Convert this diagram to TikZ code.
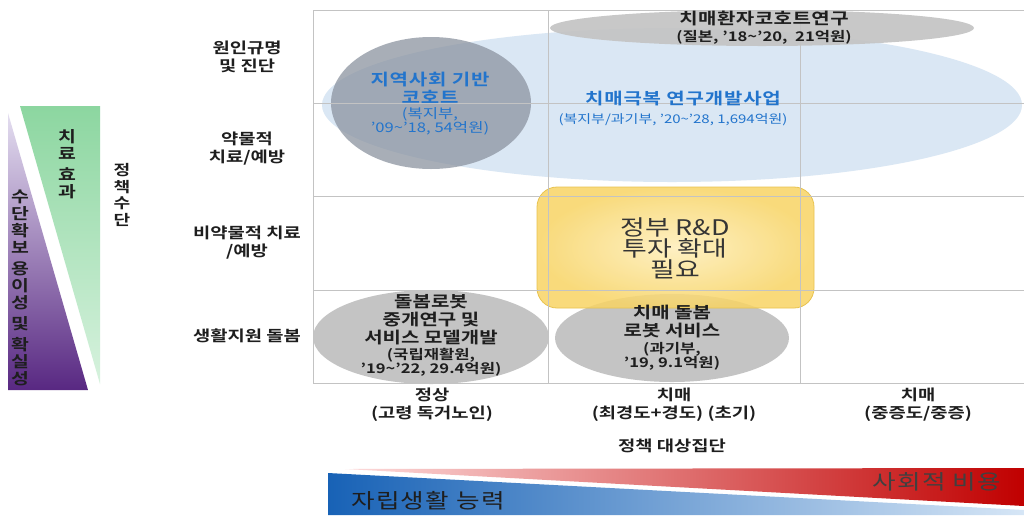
\documentclass[tikz,border=0pt]{standalone}
\usepackage{fontspec}
\setmainfont{Noto Sans CJK KR}[BoldFont={Noto Sans CJK KR Bold}, FakeStretch=1.25]
\usetikzlibrary{shapes.geometric}
\definecolor{gridc}{RGB}{195,195,195}
\definecolor{lblue}{RGB}{218,231,244}
\definecolor{gfill}{RGB}{196,196,196}
\definecolor{gdark}{RGB}{140,148,160}
\definecolor{txtblue}{RGB}{34,116,204}
\definecolor{txt}{RGB}{30,30,30}
\definecolor{purpTop}{RGB}{228,222,240}
\definecolor{purpBot}{RGB}{88,40,130}
\definecolor{grnTop}{RGB}{140,214,160}
\definecolor{grnBot}{RGB}{215,242,222}
\definecolor{yelIn}{RGB}{254,238,185}
\definecolor{yelOut}{RGB}{248,212,100}
\definecolor{yelEdge}{RGB}{232,195,80}
\definecolor{blueL}{RGB}{24,98,182}
\definecolor{blueR}{RGB}{214,230,246}
\definecolor{redL}{RGB}{253,220,220}
\definecolor{redR}{RGB}{192,0,0}
\tikzset{
  gridline/.style={draw=gridc, line width=0.9pt},
  rowlbl/.style={font=\fontsize{15}{18}\selectfont\bfseries, text=txt, align=center},
  collbl/.style={font=\fontsize{15}{18}\selectfont\bfseries, text=txt, align=center},
  vtext/.style={font=\fontsize{15.5}{17}\selectfont\bfseries, text=txt, align=center},
  head/.style={font=\fontsize{16}{18}\selectfont\bfseries, text=txt, align=center},
  sub/.style={font=\fontsize{13.3}{14}\selectfont\bfseries, text=txt, align=center},
  bhead/.style={font=\fontsize{16}{18}\selectfont\bfseries\addfontfeature{LetterSpace=5}, text=txtblue, align=center},
  bsub/.style={font=\fontsize{13.3}{14}\selectfont, text=txtblue, align=center},
  bartext/.style={font=\fontsize{20.5}{22}\selectfont\addfontfeature{LetterSpace=6}},
  blob/.style={ellipse, inner sep=0pt}
}
\begin{document}
\begin{tikzpicture}[x=1pt,y=-1pt]
\useasboundingbox (0,0) rectangle (1024,515);
\fill[white] (0,0) rectangle (1024,515);

% left panel
\shade[top color=purpTop, bottom color=purpBot] (8,113) -- (88,390) -- (8,390) -- cycle;
\shade[top color=grnTop, bottom color=grnBot] (20,106) -- (100,106) -- (100,384) -- cycle;
\node[vtext] (eff) at (67,164) {치\\료\\[4pt]효\\과};
\node[vtext] (ease) at (20,288) {수\\단\\확\\보\\[4pt]용\\이\\성\\[4pt]및\\[4pt]확\\실\\성};
\node[vtext, font=\fontsize{14.5}{16.5}\selectfont\bfseries] (means) at (122,195) {정\\책\\수\\단};

% bottom bar
\shade[left color=blueL, right color=blueR] (328,473) -- (1024,510) -- (1024,515) -- (328,515) -- cycle;
\shade[left color=redL, right color=redR] (345,469) -- (1024,468) -- (1024,506) -- cycle;
\node[bartext, text=txt!85!white] (cost) at (937,482) {사회적 비용};
\node[bartext, text=txt] (indep) at (428,501) {자립생활 능력};

% shapes
\node[blob, fill=lblue, minimum width=700pt, minimum height=154pt] (rnd) at (672,105) {};
\node[blob, fill=gfill, fill opacity=0.92, minimum width=424pt, minimum height=36pt] (cohort) at (762,28) {};
\node[blob, fill=gdark, fill opacity=0.75, minimum width=200pt, minimum height=132pt] (local) at (431,103) {};
\node[blob, fill=gfill, minimum width=236pt, minimum height=94pt] (robot1) at (431,337) {};
\node[blob, fill=gfill, minimum width=234pt, minimum height=88pt] (robot2) at (672,338) {};
\shade[inner color=yelIn, outer color=yelOut, fill opacity=0.85, rounded corners=20pt] (537,187) rectangle (814,308);
\draw[yelEdge, line width=0.8pt, rounded corners=20pt] (537,187) rectangle (814,308);
\coordinate (gov) at (675,248);

% grid
\draw[gridline] (313,10) -- (1024,10);
\draw[gridline] (313,103) -- (1024,103);
\draw[gridline] (313,196) -- (1024,196);
\draw[gridline] (313,290) -- (1024,290);
\draw[gridline] (313,383) -- (1024,383);
\draw[gridline] (313,10) -- (313,383);
\draw[gridline] (548,10) -- (548,383);
\draw[gridline] (800,10) -- (800,383);

% row labels
\node[rowlbl] (r1) at (247,57) {원인규명\\및 진단};
\node[rowlbl] (r2) at (247,149) {약물적\\치료/예방};
\node[rowlbl] (r3) at (247,243) {비약물적 치료\\/예방};
\node[rowlbl] (r4) at (247,336) {생활지원 돌봄};

% column labels
\node[collbl] (c1) at (432,405) {정상\\(고령 독거노인)};
\node[collbl] (c2) at (674,405) {치매\\(최경도+경도) (초기)};
\node[collbl] (c3) at (918,405) {치매\\(중증도/중증)};
\node[collbl] (tgt) at (672,446) {정책 대상집단};

% texts in shapes
\node[head, font=\fontsize{16}{18}\selectfont\bfseries\addfontfeature{LetterSpace=3}] at (764,18) {치매환자코호트연구};
\node[sub] at (764,37) {(질본, ’18\textasciitilde’20,\ \ 21억원)};
\node[bhead] at (430,88) {지역사회 기반\\코호트};
\node[bsub] at (430,121) {(복지부,\\’09\textasciitilde’18,\ 54억원)};
\node[bhead] at (683,99) {치매극복 연구개발사업};
\node[bsub, font=\fontsize{12}{13}\selectfont] at (673,120) {(복지부/과기부, ’20\textasciitilde’28, 1,694억원)};
\node[font=\fontsize{21.5}{21}\selectfont, text=txt!90!white, align=center] (govtxt) at (gov) {정부 R\&D\\투자 확대\\필요};
\node[head] at (431,320) {돌봄로봇\\중개연구 및\\서비스 모델개발};
\node[sub] at (431,362) {(국립재활원,\\’19\textasciitilde’22,\ 29.4억원)};
\node[head] at (672,322) {치매 돌봄\\로봇 서비스};
\node[sub] at (672,356) {(과기부,\\’19,\ 9.1억원)};
\end{tikzpicture}
\end{document}
